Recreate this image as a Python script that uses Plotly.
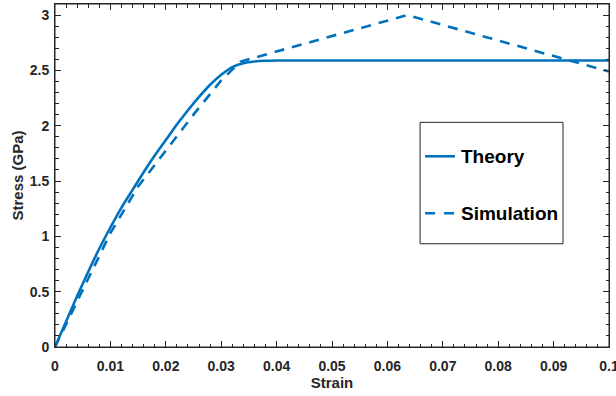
import plotly.graph_objects as go

# Data
theory_strain = [0, 0.002, 0.004, 0.006, 0.008, 0.010, 0.012, 0.014, 0.016, 0.018, 0.020,
                 0.022, 0.024, 0.026, 0.028, 0.030, 0.032, 0.034, 0.036, 0.038, 0.040, 0.100]
theory_stress = [0, 0.23, 0.46, 0.68, 0.89, 1.08, 1.26, 1.42, 1.58, 1.73, 1.87,
                 2.01, 2.14, 2.26, 2.37, 2.46, 2.53, 2.565, 2.58, 2.587, 2.59, 2.59]
sim_strain = [0, 0.005, 0.010, 0.015, 0.020, 0.025, 0.030, 0.0335, 0.0636, 0.100]
sim_stress = [0, 0.52, 1.03, 1.45, 1.78, 2.10, 2.41, 2.58, 3.00, 2.49]

x_ticks = [0, 0.01, 0.02, 0.03, 0.04, 0.05, 0.06, 0.07, 0.08, 0.09, 0.1]
y_ticks = [0, 0.5, 1, 1.5, 2, 2.5, 3]

BLUE = "#0072BD"
DARK = "#262626"
FONT = "Liberation Sans"

fig = go.Figure()
fig.add_trace(go.Scatter(x=theory_strain, y=theory_stress, mode="lines", name="Theory",
                         line=dict(color=BLUE, width=2.6, shape="spline", smoothing=0.6),
                         showlegend=False))
fig.add_trace(go.Scatter(x=sim_strain, y=sim_stress, mode="lines", name="Simulation",
                         line=dict(color=BLUE, width=2.6, dash="10px,8px"),
                         showlegend=False))

axis_common = dict(showgrid=False, zeroline=False, showline=True, linecolor=DARK, linewidth=1,
                   mirror="allticks", ticks="inside", ticklen=6, tickcolor=DARK, tickwidth=1,
                   automargin=False, ticklabeloverflow="allow",
                   tickfont=dict(family=FONT, size=14, color=DARK, weight="bold"))

fig.update_xaxes(range=[0, 0.1], tickvals=x_ticks,
                 ticktext=[("%g" % v) for v in x_ticks],
                 ticklabelstandoff=6,
                 minor=dict(dtick=0.002, ticks="inside", ticklen=3.5, tickcolor=DARK),
                 title=dict(text="<b>Strain</b>", font=dict(family=FONT, size=15, color=DARK), standoff=4),
                 **axis_common)
fig.update_yaxes(range=[0, 3.1], tickvals=y_ticks,
                 ticktext=[("%g" % v) for v in y_ticks],
                 ticklabelstandoff=2,
                 minor=dict(dtick=0.1, ticks="inside", ticklen=3.5, tickcolor=DARK),
                 title=dict(text="<b>Stress (GPa)</b>", font=dict(family=FONT, size=15, color=DARK), standoff=2),
                 **axis_common)

# Plot-area frame (MATLAB box)
fig.add_shape(type="rect", xref="paper", yref="paper", x0=0, x1=1, y0=0, y1=1,
              line=dict(color=DARK, width=1), layer="above")

# Manual legend box (MATLAB style)
lx0, lx1, ly0, ly1 = 0.659, 0.917, 0.301, 0.655
fig.add_shape(type="rect", xref="paper", yref="paper", x0=lx0, x1=lx1, y0=ly0, y1=ly1,
              line=dict(color=DARK, width=1), fillcolor="white", layer="above")
legend_items = [("Theory", "solid", 0.556), ("Simulation", "10px,9px", 0.390)]
for name, dash, yy in legend_items:
    fig.add_shape(type="line", xref="paper", yref="paper", x0=0.668, x1=0.722, y0=yy, y1=yy,
                  line=dict(color=BLUE, width=2.6, dash=dash), layer="above")
    fig.add_annotation(xref="paper", yref="paper", x=0.729, y=yy, xanchor="left", yanchor="middle",
                       text="<b>%s</b>" % name, showarrow=False,
                       font=dict(family=FONT, size=19, color="black"))

fig.update_layout(width=616, height=396, margin=dict(l=55, r=7, t=4, b=49),
                  plot_bgcolor="white", paper_bgcolor="white")

fig.write_html("out.html", config={"displayModeBar": False},
               post_script="document.body.style.margin='0';document.body.style.overflow='hidden';")
